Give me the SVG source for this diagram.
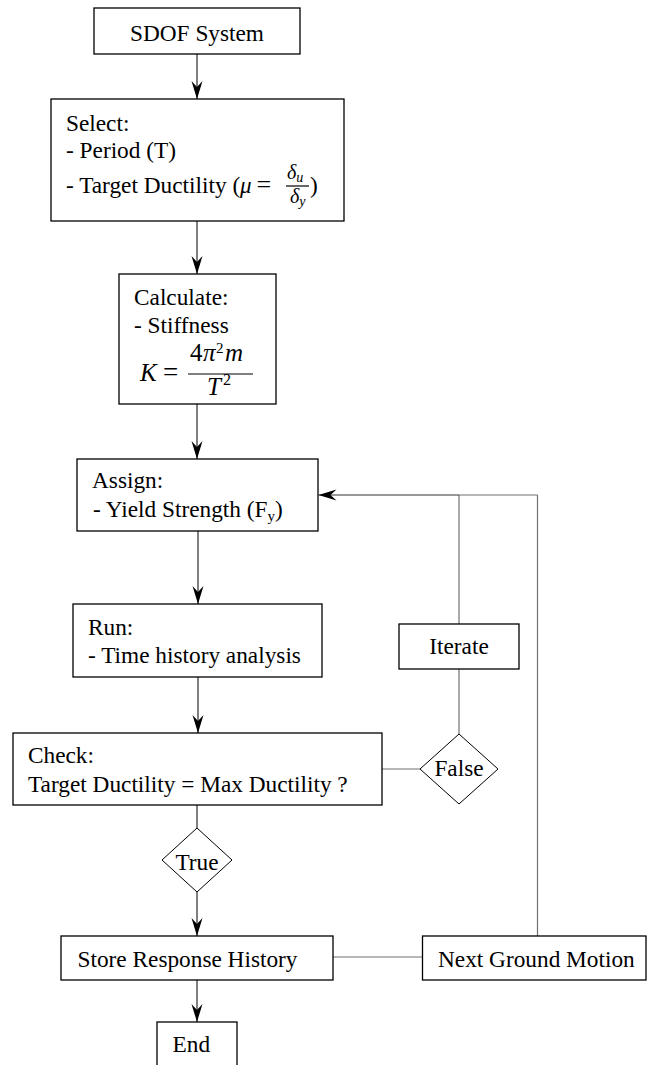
<svg xmlns="http://www.w3.org/2000/svg" width="647" height="1065" viewBox="0 0 647 1065">
  <style>
    .box { fill: #fff; stroke: #000; stroke-width: 1.3; }
    .dia { fill: #fff; stroke: #000; stroke-width: 1; }
    .t { font-family: "Liberation Serif", "Times New Roman", serif; font-size: 23.3px; fill: #000; }
    .c { text-anchor: middle; }
    .m { font-family: "Liberation Serif", "Times New Roman", serif; font-style: italic; fill: #000; }
    .up { font-family: "Liberation Serif", "Times New Roman", serif; fill: #000; }
    .flow { fill: none; stroke: #000; stroke-width: 1; }
    .back { fill: none; stroke: #707070; stroke-width: 1.2; }
    .dark { fill: none; stroke: #333; stroke-width: 1.2; }
    .frac { stroke: #000; stroke-width: 1.2; }
  </style>
  <defs>
    <marker id="arrow" markerUnits="userSpaceOnUse" markerWidth="20" markerHeight="13" viewBox="-19 -6.5 20 13" refX="0" refY="0" orient="auto">
      <path d="M0,0 L-18,-5.5 L-12,0 L-18,5.5 Z" fill="#000"/>
    </marker>
  </defs>

  <!-- connectors -->
  <g id="connectors">
    <line class="flow" x1="197" y1="54" x2="197" y2="99" marker-end="url(#arrow)"/>
    <line class="flow" x1="197" y1="221" x2="197" y2="274" marker-end="url(#arrow)"/>
    <line class="flow" x1="197" y1="404" x2="197" y2="459" marker-end="url(#arrow)"/>
    <line class="flow" x1="198" y1="531" x2="198" y2="604" marker-end="url(#arrow)"/>
    <line class="flow" x1="198" y1="677" x2="198" y2="733" marker-end="url(#arrow)"/>
    <line class="flow" x1="197" y1="805" x2="197" y2="828"/>
    <line class="flow" x1="197" y1="892" x2="197" y2="936" marker-end="url(#arrow)"/>
    <line class="flow" x1="197" y1="980" x2="197" y2="1022" marker-end="url(#arrow)"/>
    <!-- false branch: check -> false -> iterate -> back to assign -->
    <line class="back" x1="382" y1="769" x2="420" y2="769"/>
    <line class="back" x1="459" y1="734" x2="459" y2="669"/>
    <line class="back" x1="459" y1="624" x2="459" y2="495"/>
    <line class="back" x1="537.5" y1="495" x2="459" y2="495"/>
    <line class="dark" x1="459" y1="495" x2="318.5" y2="495" marker-end="url(#arrow)"/>
    <!-- store -> next ground motion -> back to assign -->
    <line class="back" x1="333" y1="957" x2="422.5" y2="957"/>
    <line class="back" x1="537.5" y1="936" x2="537.5" y2="495"/>
  </g>

  <g id="sdof">
    <rect class="box" x="94" y="8" width="206" height="46"/>
    <text class="t c" x="197" y="41" font-size="25">SDOF System</text>
  </g>

  <g id="select">
    <rect class="box" x="51" y="99" width="293" height="122"/>
    <text class="t" x="66" y="131">Select:</text>
    <text class="t" x="66" y="158">- Period (T)</text>
    <text class="t" x="66" y="193" font-size="23">- Target Ductility (</text>
    <text class="m" x="240" y="193" font-size="23">μ</text>
    <text class="up" x="256.5" y="193" font-size="26">=</text>
    <line class="frac" x1="286" y1="186" x2="309" y2="186"/>
    <text class="m" x="287" y="179" font-size="20">δ<tspan font-size="14" dy="3">u</tspan></text>
    <text class="m" x="290" y="203" font-size="20">δ<tspan font-size="14" dy="3">y</tspan></text>
    <text class="t" x="310" y="193">)</text>
  </g>

  <g id="calculate">
    <rect class="box" x="119" y="274" width="157" height="130"/>
    <text class="t" x="134" y="305">Calculate:</text>
    <text class="t" x="134" y="333">- Stiffness</text>
    <text class="m" x="140" y="381" font-size="25">K</text>
    <text class="up" x="163" y="381" font-size="27">=</text>
    <line class="frac" x1="188" y1="374" x2="253" y2="374"/>
    <text class="m" y="361" font-size="25"><tspan x="190" font-style="normal">4</tspan><tspan x="203">π</tspan><tspan x="216" dy="-8" font-style="normal" font-size="15">2</tspan><tspan x="225" dy="8">m</tspan></text>
    <text class="m" y="395" font-size="25"><tspan x="207">T</tspan><tspan x="223" dy="-10" font-style="normal" font-size="16">2</tspan></text>
  </g>

  <g id="assign">
    <rect class="box" x="77" y="459" width="241" height="72"/>
    <text class="t" x="92" y="488">Assign:</text>
    <text class="t" x="93" y="517" font-size="23">- Yield Strength (F<tspan font-size="15" dy="4">y</tspan><tspan dy="-4">)</tspan></text>
  </g>

  <g id="run">
    <rect class="box" x="73" y="604" width="249" height="73"/>
    <text class="t" x="88" y="635">Run:</text>
    <text class="t" x="88" y="663">- Time history analysis</text>
  </g>

  <g id="iterate">
    <rect class="box" x="399" y="624" width="120" height="45"/>
    <text class="t c" x="459" y="654">Iterate</text>
  </g>

  <g id="check">
    <rect class="box" x="13" y="733" width="369" height="72"/>
    <text class="t" x="28" y="763">Check:</text>
    <text class="t" x="28" y="792">Target Ductility = Max Ductility ?</text>
  </g>

  <g id="false">
    <polygon class="dia" points="459,734 498,769 459,804 420,769"/>
    <text class="t c" x="459" y="776">False</text>
  </g>

  <g id="true">
    <polygon class="dia" points="197,828 232,860 197,892 162,860"/>
    <text class="t c" x="197" y="870">True</text>
  </g>

  <g id="store">
    <rect class="box" x="61" y="936" width="272" height="44"/>
    <text class="t" x="77.5" y="967">Store Response History</text>
  </g>

  <g id="next">
    <rect class="box" x="422.5" y="936" width="223.5" height="44"/>
    <text class="t" x="438" y="967">Next Ground Motion</text>
  </g>

  <g id="end">
    <rect class="box" x="157" y="1022" width="80" height="60"/>
    <text class="t" x="172.5" y="1052">End</text>
  </g>
</svg>
